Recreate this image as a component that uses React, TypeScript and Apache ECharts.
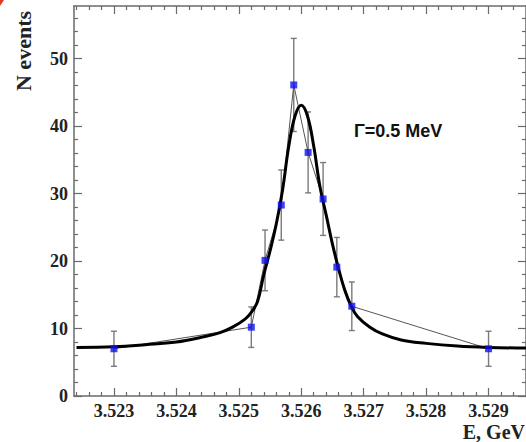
import React, { useEffect, useRef } from "react";
import * as echarts from "echarts";

// Data points (E in GeV, N events, error)
const pointE = [3.523, 3.5252, 3.52542, 3.52568, 3.52588, 3.52611, 3.52635, 3.52657, 3.52681, 3.529];
const pointN = [7, 10.2, 20.1, 28.3, 46.1, 36.1, 29.2, 19.1, 13.3, 7];
const pointErr = [2.6, 3.0, 4.5, 5.2, 6.9, 6.0, 5.4, 4.4, 3.6, 2.6];

// Fitted curve
const curveE = [3.5224, 3.523, 3.5235, 3.524, 3.5244, 3.5247, 3.5249, 3.5251, 3.5252, 3.5253, 3.5254, 3.5255, 3.5256, 3.5257, 3.5258, 3.5259, 3.526, 3.5261, 3.5262, 3.5263, 3.5264, 3.5265, 3.5266, 3.5267, 3.5268, 3.5269, 3.5271, 3.5273, 3.5276, 3.528, 3.5285, 3.529, 3.5296];
const curveN = [7.2, 7.3, 7.6, 8.0, 8.7, 9.4, 10.2, 11.4, 12.4, 14.0, 18.0, 21.5, 25.5, 30.5, 37.0, 41.5, 43.1, 41.5, 37.0, 31.0, 26.8, 22.5, 18.8, 15.6, 13.3, 11.8, 10.2, 9.2, 8.3, 7.8, 7.4, 7.2, 7.1];

const xMajor = [3.523, 3.524, 3.525, 3.526, 3.527, 3.528, 3.529];
const xMinor = [3.5224, 3.5226, 3.5228, 3.5232, 3.5234, 3.5236, 3.5238, 3.5242, 3.5244, 3.5246, 3.5248, 3.5252, 3.5254, 3.5256, 3.5258, 3.5262, 3.5264, 3.5266, 3.5268, 3.5272, 3.5274, 3.5276, 3.5278, 3.5282, 3.5284, 3.5286, 3.5288, 3.5292, 3.5294];
const yMajor = [0, 10, 20, 30, 40, 50];
const yMinor = [2, 4, 6, 8, 12, 14, 16, 18, 22, 24, 26, 28, 32, 34, 36, 38, 42, 44, 46, 48, 52, 54, 56];

const X_MIN = 3.52236;
const X_MAX = 3.5296;
const Y_MIN = 0;
const Y_MAX = 57.8;

const axisColor = "#6a6a6a";
const labelFont = "Liberation Serif";

export default function App() {
  const ref = useRef<HTMLDivElement>(null);

  useEffect(() => {
    if (!ref.current) return;
    const chart = echarts.init(ref.current, undefined, { renderer: "svg" });

    const baseX = (position: string, major: boolean, showLine: boolean, showLabel: boolean) => ({
      type: "value",
      position,
      min: X_MIN,
      max: X_MAX,
      axisLine: { show: showLine, onZero: false, lineStyle: { color: axisColor, width: 1.5 } },
      axisTick: {
        show: true,
        inside: true,
        length: major ? 8 : 4,
        customValues: major ? xMajor : xMinor,
        lineStyle: { color: axisColor, width: 1.2 },
      },
      axisLabel: {
        show: showLabel,
        customValues: xMajor,
        formatter: (v: number) => v.toFixed(3),
        fontFamily: labelFont,
        fontWeight: "bold",
        fontSize: 18,
        color: "#222",
        margin: 6,
      },
      splitLine: { show: false },
      minorTick: { show: false },
    });

    const baseY = (position: string, major: boolean, showLine: boolean, showLabel: boolean) => ({
      type: "value",
      position,
      min: Y_MIN,
      max: Y_MAX,
      axisLine: { show: showLine, onZero: false, lineStyle: { color: axisColor, width: 1.5 } },
      axisTick: {
        show: true,
        inside: true,
        length: major ? 8 : 4,
        customValues: major ? yMajor : yMinor,
        lineStyle: { color: axisColor, width: 1.2 },
      },
      axisLabel: {
        show: showLabel,
        customValues: yMajor,
        fontFamily: labelFont,
        fontWeight: "bold",
        fontSize: 18,
        color: "#222",
        margin: 6,
      },
      splitLine: { show: false },
    });

    const pointData = pointE.map((e, i) => [e, pointN[i]]);
    const errData = pointE.map((e, i) => [e, pointN[i], pointErr[i]]);
    const curveData = curveE.map((e, i) => [e, curveN[i]]);

    chart.setOption({
      animation: false,
      grid: { left: 74, right: 0, top: 6, bottom: 46, containLabel: false },
      xAxis: [
        baseX("bottom", true, true, true),
        baseX("bottom", false, false, false),
        baseX("top", true, true, false),
        baseX("top", false, false, false),
      ],
      yAxis: [
        baseY("left", true, true, true),
        baseY("left", false, false, false),
        baseY("right", true, true, false),
        baseY("right", false, false, false),
      ],
      series: [
        {
          type: "custom",
          xAxisIndex: 0,
          yAxisIndex: 0,
          data: errData,
          encode: { x: 0, y: 1 },
          z: 1,
          renderItem: (params: any, api: any) => {
            const x = api.value(0);
            const y = api.value(1);
            const e = api.value(2);
            const top = api.coord([x, y + e]);
            const bot = api.coord([x, y - e]);
            const cap = 3;
            const style = { stroke: "#7a7a7a", lineWidth: 1.4 };
            return {
              type: "group",
              children: [
                { type: "line", shape: { x1: top[0], y1: top[1], x2: bot[0], y2: bot[1] }, style },
                { type: "line", shape: { x1: top[0] - cap, y1: top[1], x2: top[0] + cap, y2: top[1] }, style },
                { type: "line", shape: { x1: bot[0] - cap, y1: bot[1], x2: bot[0] + cap, y2: bot[1] }, style },
              ],
            };
          },
        },
        {
          type: "line",
          data: pointData,
          symbol: "none",
          lineStyle: { color: "#555", width: 1 },
          z: 2,
        },
        {
          type: "line",
          data: curveData,
          symbol: "none",
          smooth: 0.4,
          lineStyle: { color: "#000", width: 3 },
          z: 3,
        },
        {
          type: "scatter",
          data: pointData,
          symbol: "rect",
          symbolSize: 7,
          itemStyle: { color: "#1010f0" },
          z: 4,
        },
      ],
      graphic: [
        {
          type: "text",
          x: 23,
          y: 51,
          rotation: Math.PI / 2,
          style: {
            text: "N events",
            font: `bold 22px '${labelFont}'`,
            fill: "#222",
            align: "center",
            verticalAlign: "middle",
          },
        },
        {
          type: "text",
          x: 525,
          y: 432,
          style: {
            text: "E, GeV",
            font: `bold 20px '${labelFont}'`,
            fill: "#222",
            align: "right",
            verticalAlign: "middle",
          },
        },
        {
          type: "text",
          x: 354,
          y: 131,
          style: {
            text: "Γ=0.5 MeV",
            font: "bold 18px 'Liberation Sans'",
            fill: "#111",
            align: "left",
            verticalAlign: "middle",
          },
        },
        {
          type: "polygon",
          shape: { points: [[0, 0], [4, 0], [0, 6]] },
          style: { fill: "#e8361c" },
        },
      ],
    });

    return () => chart.dispose();
  }, []);

  return (
    <div
      ref={ref}
      style={{ position: "fixed", left: 0, top: 0, width: 526, height: 442, background: "#fff" }}
    />
  );
}
